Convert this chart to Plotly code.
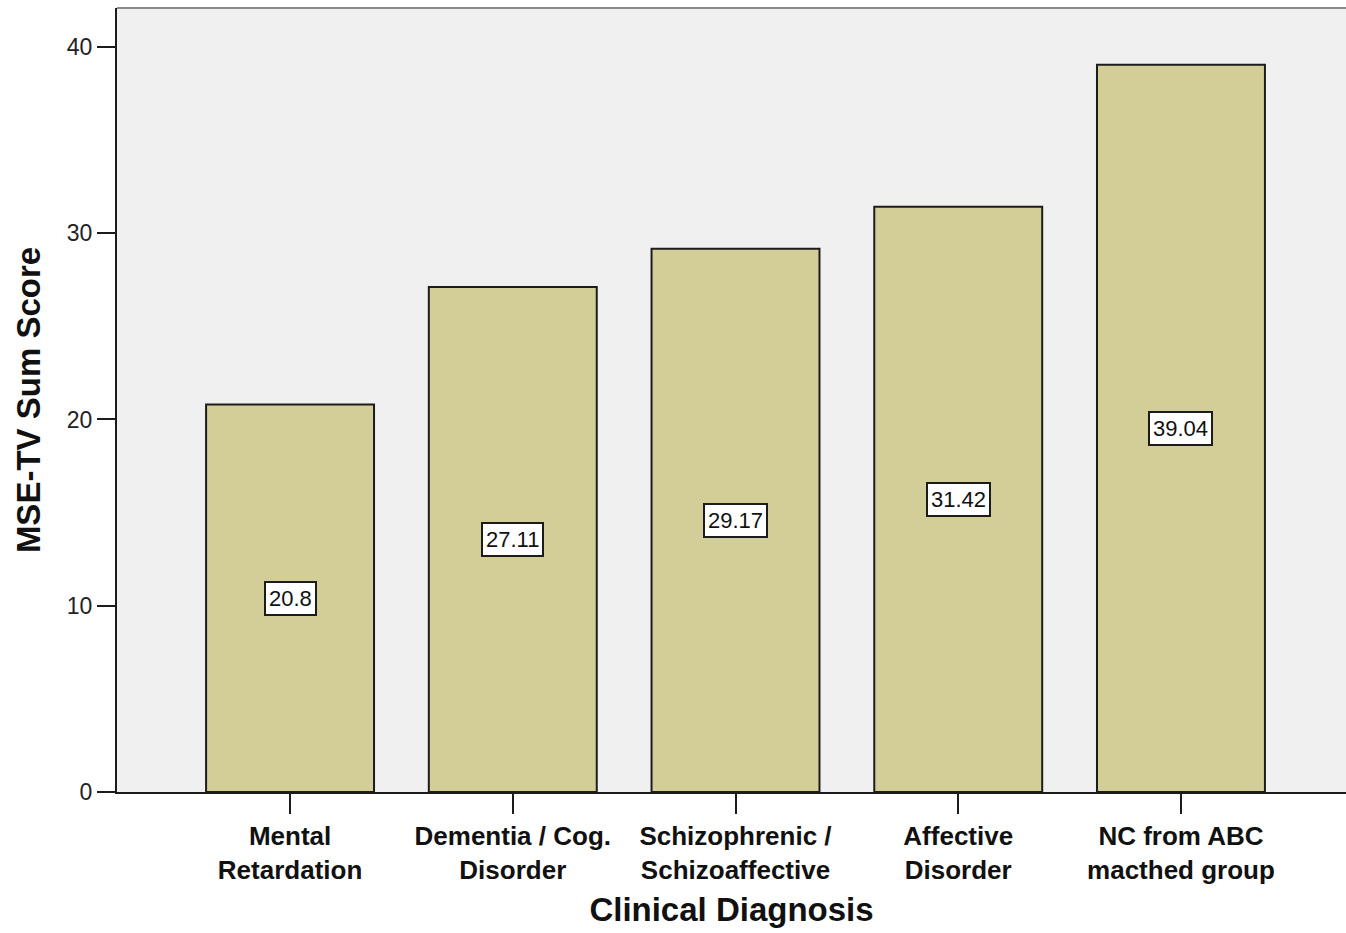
import plotly.graph_objects as go

categories = [
    "Mental<br>Retardation",
    "Dementia / Cog.<br>Disorder",
    "Schizophrenic /<br>Schizoaffective",
    "Affective<br>Disorder",
    "NC from ABC<br>macthed group",
]
scores = [20.8, 27.11, 29.17, 31.42, 39.04]
y_ticks = [0, 10, 20, 30, 40]

x_title = "Clinical Diagnosis"
y_title = "MSE-TV Sum Score"

FONT = "Liberation Sans, Arial, sans-serif"
BAR_FILL = "#D3CE97"
DARK = "#1c1c1c"

x_idx = list(range(len(categories)))

fig = go.Figure()
fig.add_trace(go.Bar(
    x=x_idx,
    y=scores,
    width=0.754,
    marker=dict(color=BAR_FILL, line=dict(color=DARK, width=2)),
    hoverinfo="skip",
))

for i, v in zip(x_idx, scores):
    fig.add_annotation(
        x=i, y=v / 2, xref="x", yref="y",
        text=f"{v:g}", showarrow=False,
        font=dict(family=FONT, size=22, color="#111111"),
        bgcolor="white", bordercolor=DARK, borderwidth=2, borderpad=3,
    )

fig.add_shape(type="line", xref="paper", yref="paper", x0=0, x1=1, y0=1, y1=1,
              line=dict(color="#8a8a8a", width=2))

fig.update_layout(
    width=1346, height=933,
    margin=dict(l=117, r=0, t=8, b=141, autoexpand=False),
    paper_bgcolor="white",
    plot_bgcolor="#F0F0F0",
    showlegend=False,
    font=dict(family=FONT, color="#111111"),
    xaxis=dict(
        range=[-0.777, 4.741],
        tickmode="array", tickvals=x_idx, ticktext=categories,
        ticks="outside", ticklen=20, tickwidth=2, tickcolor=DARK,
        showline=True, linecolor=DARK, linewidth=2,
        showgrid=False, zeroline=False,
        tickfont=dict(family=FONT, size=26, color="#111111", weight="bold"),
        title=dict(text=f"<b>{x_title}</b>", font=dict(family=FONT, size=33, color="#111111"), standoff=14),
        automargin=False,
    ),
    yaxis=dict(
        range=[0, 42.09],
        tickmode="array", tickvals=y_ticks,
        ticks="outside", ticklen=18, tickwidth=2, tickcolor=DARK,
        showline=True, linecolor=DARK, linewidth=2,
        showgrid=False, zeroline=False,
        tickfont=dict(family=FONT, size=23, color="#222222"),
        title=dict(text=f"<b>{y_title}</b>", font=dict(family=FONT, size=33, color="#111111"), standoff=16),
        automargin=False,
    ),
)

fig.write_html("out.html")
